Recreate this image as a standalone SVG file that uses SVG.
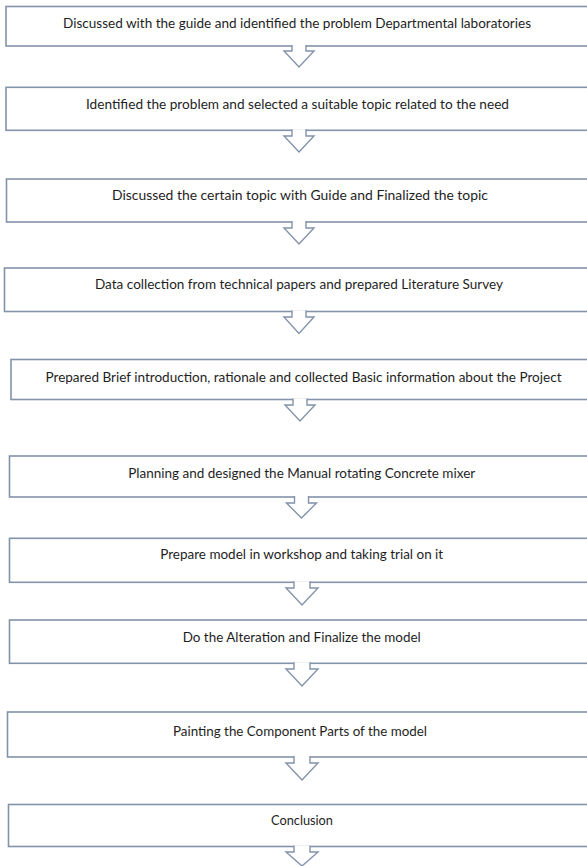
<svg xmlns="http://www.w3.org/2000/svg" width="587" height="866" viewBox="0 0 587 866">
<style>
.box{fill:#ffffff;stroke:#8393aa;stroke-width:1.6}
.arr{fill:#ffffff;stroke:#8393aa;stroke-width:1.4;stroke-linejoin:miter}
.t{font-family:Lato,"Liberation Sans",sans-serif;font-size:14.2px;fill:#1e1e1e;text-anchor:middle}
</style>
<rect width="587" height="866" fill="#ffffff"/>
<g id="n1"><rect class="box" x="6" y="6.5" width="600" height="39.5"/><text class="t" x="297" y="27.5" textLength="468" lengthAdjust="spacingAndGlyphs">Discussed with the guide and identified the problem Departmental laboratories</text></g>
<g id="n2"><rect class="box" x="6" y="87.3" width="600" height="43"/><text class="t" x="297.5" y="108.5" textLength="423" lengthAdjust="spacingAndGlyphs">Identified the problem and selected a suitable topic related to the need</text></g>
<g id="n3"><rect class="box" x="6.5" y="179" width="600" height="43"/><text class="t" x="300" y="200" textLength="376" lengthAdjust="spacingAndGlyphs">Discussed the certain topic with Guide and Finalized the topic</text></g>
<g id="n4"><rect class="box" x="4.5" y="268" width="600" height="43.5"/><text class="t" x="299" y="289" textLength="408" lengthAdjust="spacingAndGlyphs">Data collection from technical papers and prepared Literature Survey</text></g>
<g id="n5"><rect class="box" x="11" y="359.5" width="600" height="40"/><text class="t" x="303.5" y="382" textLength="516" lengthAdjust="spacingAndGlyphs">Prepared Brief introduction, rationale and collected Basic information about the Project</text></g>
<g id="n6"><rect class="box" x="9.5" y="456" width="600" height="41"/><text class="t" x="301.7" y="478" textLength="347" lengthAdjust="spacingAndGlyphs">Planning and designed the Manual rotating Concrete mixer</text></g>
<g id="n7"><rect class="box" x="9.5" y="538.3" width="600" height="44"/><text class="t" x="301.7" y="559" textLength="283" lengthAdjust="spacingAndGlyphs">Prepare model in workshop and taking trial on it</text></g>
<g id="n8"><rect class="box" x="9.5" y="620" width="600" height="43.3"/><text class="t" x="301.7" y="641.5" textLength="238" lengthAdjust="spacingAndGlyphs">Do the Alteration and Finalize the model</text></g>
<g id="n9"><rect class="box" x="7.5" y="712" width="600" height="45"/><text class="t" x="300" y="735.5" textLength="254" lengthAdjust="spacingAndGlyphs">Painting the Component Parts of the model</text></g>
<g id="n10"><rect class="box" x="8.5" y="804.5" width="600" height="42"/><text class="t" x="302" y="824.5" textLength="62" lengthAdjust="spacingAndGlyphs">Conclusion</text></g>
<g id="connectors">
<path class="arr" d="M292,45 L292,51 L284,51 L299,67 L314,51 L306,51 L306,45"/>
<path class="arr" d="M292,129.3 L292,136 L284,136 L299,152 L314,136 L306,136 L306,129.3"/>
<path class="arr" d="M292,221 L292,228 L284,228 L299,244 L314,228 L306,228 L306,221"/>
<path class="arr" d="M292,310.5 L292,317 L284,317 L299,333.5 L314,317 L306,317 L306,310.5"/>
<path class="arr" d="M293,398.5 L293,405 L285,405 L300,421 L315,405 L307,405 L307,398.5"/>
<path class="arr" d="M294.5,496 L294.5,503 L286.5,503 L301.5,518 L316.5,503 L308.5,503 L308.5,496"/>
<path class="arr" d="M294,581.3 L294,588 L286,588 L302,605 L318,588 L310,588 L310,581.3"/>
<path class="arr" d="M294,662.3 L294,669 L286,669 L302,686 L318,669 L310,669 L310,662.3"/>
<path class="arr" d="M294,756 L294,763 L286,763 L302,780 L318,763 L310,763 L310,756"/>
<path class="arr" d="M294,845.5 L294,852 L286,852 L302,866 L318,852 L310,852 L310,845.5"/>
</g>
</svg>
